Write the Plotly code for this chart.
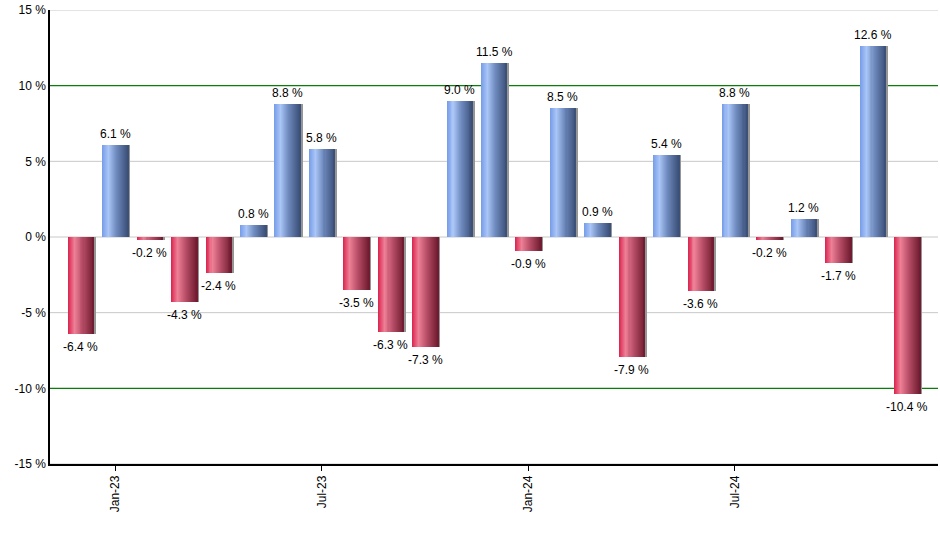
import plotly.graph_objects as go

months = ["Dec-22", "Jan-23", "Feb-23", "Mar-23", "Apr-23", "May-23", "Jun-23", "Jul-23",
          "Aug-23", "Sep-23", "Oct-23", "Nov-23", "Dec-23", "Jan-24", "Feb-24", "Mar-24",
          "Apr-24", "May-24", "Jun-24", "Jul-24", "Aug-24", "Sep-24", "Oct-24", "Nov-24", "Dec-24"]
returns = [-6.4, 6.1, -0.2, -4.3, -2.4, 0.8, 8.8, 5.8, -3.5, -6.3, -7.3, 9.0, 11.5, -0.9,
           8.5, 0.9, -7.9, 5.4, -3.6, 8.8, -0.2, 1.2, -1.7, 12.6, -10.4]
tick_labels = ["Jan-23", "Jul-23", "Jan-24", "Jul-24"]
y_ticks = [-15, -10, -5, 0, 5, 10, 15]
ref_lines = [10, -10]

# gradient stops (position 0..1 across bar width)
blue_stops = [(0.0, (118, 156, 232)), (0.25, (170, 198, 247)), (0.55, (110, 138, 190)), (1.0, (58, 78, 118))]
red_stops = [(0.0, (218, 34, 78)), (0.25, (238, 128, 150)), (0.55, (186, 80, 105)), (1.0, (110, 26, 46))]


def interp(stops, t):
    for (p0, c0), (p1, c1) in zip(stops[:-1], stops[1:]):
        if p0 <= t <= p1:
            f = (t - p0) / (p1 - p0)
            return "rgb(%d,%d,%d)" % tuple(round(a + (b - a) * f) for a, b in zip(c0, c1))
    return "rgb(%d,%d,%d)" % stops[-1][1]


FONT = "Liberation Sans, Arial, sans-serif"
W = 0.755
N = 26
X_RANGE = [-0.9, len(months) - 0.1]
fig = go.Figure()

# shadow
fig.add_trace(go.Bar(x=months, y=returns, width=W, offset=-W / 2 + 0.06,
                     marker=dict(color="rgb(150,150,150)", line=dict(width=0)),
                     hoverinfo="skip", showlegend=False))

step = W / N
for i in range(N):
    t = (i + 0.5) / N
    colors = [interp(blue_stops, t) if v >= 0 else interp(red_stops, t) for v in returns]
    wi = step * 2 if i < N - 1 else step
    fig.add_trace(go.Bar(x=months, y=returns, width=wi, offset=-W / 2 + i * step,
                         marker=dict(color=colors, line=dict(width=0)),
                         hoverinfo="skip", showlegend=False))

for m, v in zip(months, returns):
    fig.add_annotation(x=m, y=v, text="%.1f %%" % v, showarrow=False,
                       yanchor="bottom" if v >= 0 else "top",
                       yshift=2 if v >= 0 else -4,
                       font=dict(family=FONT, size=12, color="#000"))

# horizontal grid lines (gray) and reference lines (green), drawn under the bars
for yv in y_ticks:
    fig.add_shape(type="line", xref="x", x0=X_RANGE[0], x1=X_RANGE[1], yref="y", y0=yv, y1=yv,
                  line=dict(color="#0a7d0a" if yv in ref_lines else "#c8c8c8",
                            width=1.4 if yv in ref_lines else 1),
                  layer="below")

fig.update_layout(
    width=940, height=550, barmode="overlay", bargap=0,
    margin=dict(l=50, r=2, t=10, b=86, autoexpand=False),
    plot_bgcolor="white", paper_bgcolor="white",
    font=dict(family=FONT, size=12, color="#000"),
    xaxis=dict(type="category", range=X_RANGE, tickmode="array", tickvals=tick_labels,
               ticktext=tick_labels, tickangle=-90, ticks="outside", ticklen=5, tickcolor="black",
               showline=True, linecolor="black", linewidth=1.5, showgrid=False, zeroline=False,
               automargin=False, tickfont=dict(size=12)),
    yaxis=dict(range=[-15, 15], tickvals=y_ticks, ticktext=["%d %%" % v for v in y_ticks],
               showline=True, linecolor="black", linewidth=1.5, showgrid=False,
               zeroline=False, ticks="", ticklen=0, ticklabeloverflow="allow",
               automargin=False, tickfont=dict(size=12)),
)

fig.write_html("out.html", config={"displayModeBar": False},
               post_script="document.body.style.margin='0';document.body.style.overflow='hidden';")
